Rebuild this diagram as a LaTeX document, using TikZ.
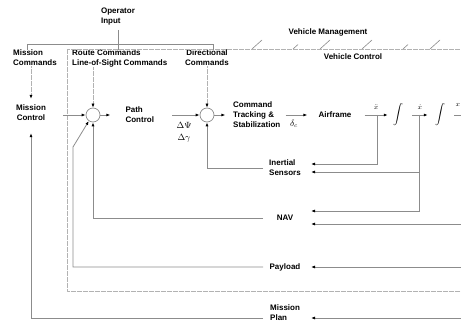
\documentclass[tikz,border=0pt]{standalone}
\usepackage[no-math]{fontspec}
\setmainfont{Liberation Sans}
\usetikzlibrary{arrows.meta, positioning}
\tikzstyle{uavloop}=[>={Latex[length=4pt,width=3pt,color=black]}, x=1pt, y=1pt, font=\fontsize{8}{10}\selectfont\bfseries]
\tikzstyle{lbl}=[inner sep=0pt, align=left]
\tikzstyle{mathlbl}=[inner sep=0pt, font=\fontsize{9}{11}\selectfont]
\tikzstyle{dotlbl}=[inner sep=0pt, font=\fontsize{7}{9}\selectfont]
\tikzstyle{integ}=[inner sep=0pt, font=\fontsize{12}{14}\selectfont]
\tikzstyle{junction}=[circle, draw=black!45, line width=0.7pt, minimum size=14pt, inner sep=0pt]
\tikzstyle{sig}=[draw=black!45, line width=0.8pt]
\tikzstyle{cmdsig}=[draw=black!30, dash pattern=on 0.4pt off 0.8pt, line width=0.7pt]

\begin{document}
\begin{tikzpicture}[uavloop]
  \useasboundingbox (0,0) rectangle (461,322);
  % commands and regions
  \node[lbl] (opin) at (118,305) {Operator\\Input};
  \node[lbl, anchor=west] (misscmd) at (13,264) {Mission\\Commands};
  \node[lbl, anchor=west] (routecmd) at (72,264) {Route Commands\\Line-of-Sight Commands};
  \node[lbl, align=center] (dircmd) at (207,264) {Directional\\Commands};
  \node[lbl] (vman) at (328,290) {Vehicle Management};
  \node[lbl] (vctl) at (353,265) {Vehicle Control};

  % loop blocks
  \node[lbl, align=center] (mctl) at (31,209) {Mission\\Control};
  \node[junction] (sum1) at (93,207) {};
  \node[lbl, right=25pt of sum1] (pctl) {Path\\Control};
  \node[junction] (sum2) at (207,207) {};
  \node[lbl, anchor=west] (ctrk) at (233,207) {Command\\Tracking \&\\Stabilization};
  \node[lbl] (afrm) at (335,207) {Airframe};
  \node[integ] (int1) at (398,207) {$\displaystyle\int$};
  \node[integ] (int2) at (440,207) {$\displaystyle\int$};
  \node[mathlbl] (dpsi) at (184,197) {$\Delta\Psi$};
  \node[mathlbl] (dgam) at (184,184) {$\Delta\gamma$};
  \node[mathlbl] (dc) at (294,198) {$\delta_c$};
  \node[dotlbl] (xout) at (458,217) {$x$};

  % sensors
  \node[lbl, anchor=west] (isens) at (269,154) {Inertial\\Sensors};
  \node[lbl] (nav) at (285,104) {NAV};
  \node[lbl] (pay) at (285,55) {Payload};
  \node[lbl, anchor=west] (mplan) at (270,9) {Mission\\Plan};

  \coordinate (rim) at (461,0);
  \coordinate (xdd) at (377,207);
  \coordinate (xd) at (419,207);
  \coordinate (isA) at (311,158);
  \coordinate (isB) at (311,150);
  \coordinate (navA) at (311,111);
  \coordinate (navB) at (311,98);
  \coordinate (payA) at (311,55);
  \coordinate (mpA) at (311,4);
  \coordinate (isO) at (263,154);
  \coordinate (navO) at (263,104);
  \coordinate (payO) at (263,55);
  \coordinate (payK) at (73,175);
  \coordinate (mpO) at (263,4);

  % boundaries
  \draw[cmdsig] (461,273) -- (67,273) -- (67,31) -- (461,31);
  \foreach \hx/\hl in {252/10,293/5,320/10,362/10,403/5,430/10}
    \draw[sig, line width=0.6pt] (\hx,273) -- ++(\hl,0.9*\hl);
  \draw[sig] ([yshift=-4pt]opin.south) -- ++(0,-20);
  \draw[sig] (27,272) -- (27,278) -- (213,278) -- (213,272);

  % command inputs
  \draw[cmdsig,->,shorten >=6pt] (misscmd.south -| mctl) -- (mctl.north);
  \draw[cmdsig,->] (routecmd.south -| sum1) -- (sum1.north);
  \draw[cmdsig,->] (dircmd.south) -- (sum2.north);

  % forward path
  \draw[sig,->,shorten <=17pt] (mctl.east |- sum1) -- (sum1.west);
  \draw[sig,->] (sum1.east) -- ++(10,0);
  \draw[sig,->,shorten <=18pt] (pctl.east |- sum2) -- (sum2.west);
  \draw[sig,->] (sum2.east) -- ++(11,0);
  \draw[sig,->] ([xshift=5pt]ctrk.east) -- ([xshift=-11pt]afrm.west);
  \draw[sig,->] ([xshift=13pt]afrm.east) -- ([xshift=-5pt]int1.west)
    node[dotlbl, midway, above=5pt] {$\ddot{x}$};
  \draw[sig,->] ([xshift=9pt]int1.east) -- ([xshift=-7pt]int2.west)
    node[dotlbl, midway, above=5pt] {$\dot{x}$};
  \draw[sig] ([xshift=9pt]int2.east) -- (rim |- int2);

  % feedback
  \draw[sig,->] (xdd) |- (isA);
  \draw[sig,->] (xd) |- (isB);
  \draw[sig,->] (xd) |- (navA);
  \draw[sig,->] (rim |- navB) -- (navB);
  \draw[sig,->] (rim |- payA) -- (payA);
  \draw[sig,->] (rim |- mpA) -- (mpA);
  \draw[sig,->] (isO) -| (sum2.south);
  \draw[sig,->] (navO) -| (sum1.south);
  \draw[sig,->] (payO) -| (payK) -- (sum1.235);
  \draw[sig,->,shorten >=12pt] (mpO) -| (mctl.south);
\end{tikzpicture}
\end{document}
